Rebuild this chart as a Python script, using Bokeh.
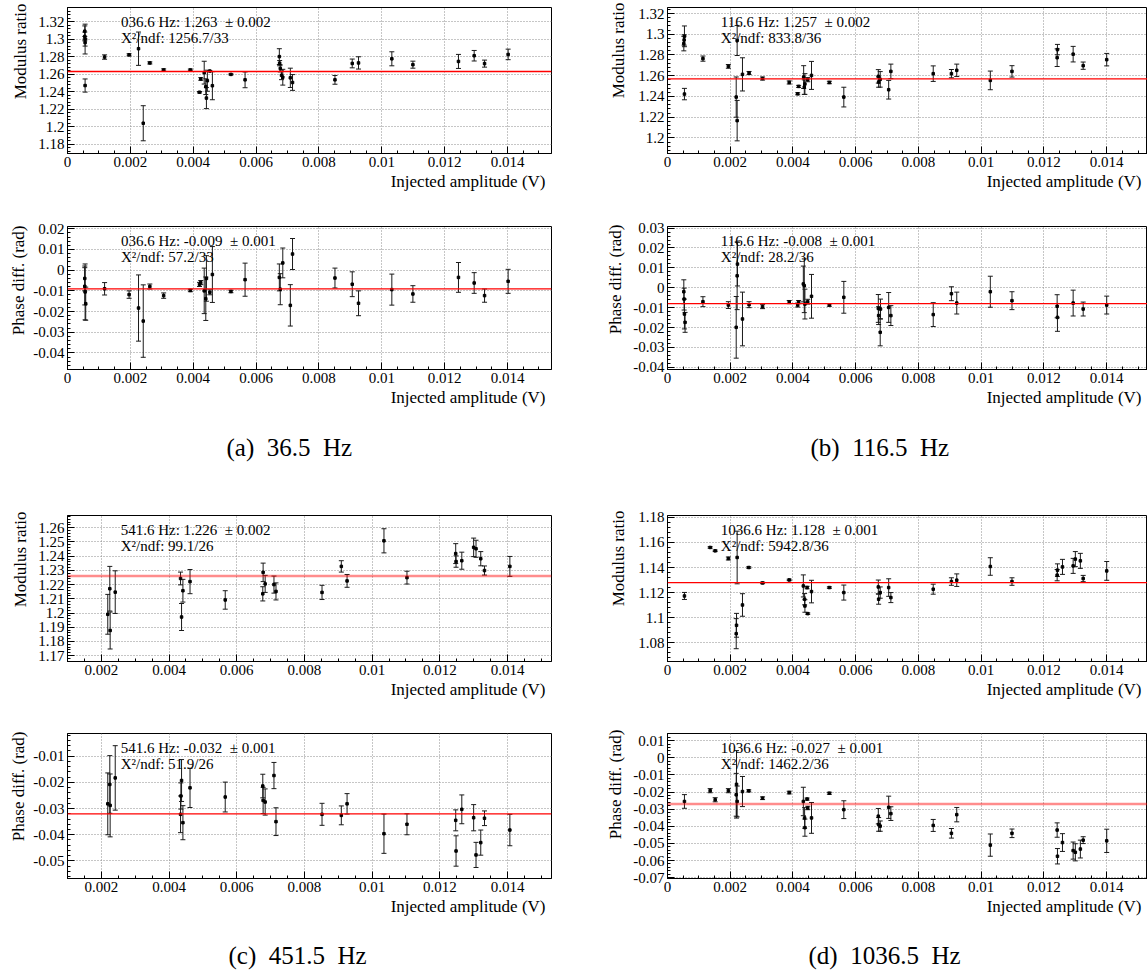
import numpy as np
from bokeh.plotting import figure
from bokeh.models import (Range1d, SingleIntervalTicker, CustomJSTickFormatter, Whisker,
                          TeeHead, ColumnDataSource, Span, Label, Title)
from bokeh.layouts import column, row
from bokeh.embed import file_html
from bokeh.resources import INLINE

FONT = "Liberation Serif"
XLABEL = "Injected amplitude (V)"

# ---------------- (a) 36.5 Hz ----------------
a_mod_x = [0.00055, 0.00055, 0.00056, 0.00056, 0.00056, 0.00118, 0.00196, 0.00226, 0.00241, 0.00262,
           0.00306, 0.00391, 0.0042, 0.00424, 0.00435, 0.0044, 0.00442, 0.00445, 0.00453, 0.00461,
           0.0052, 0.00565, 0.00674, 0.00675, 0.00677, 0.00681, 0.00685, 0.00709, 0.00716, 0.00851,
           0.00906, 0.00926, 0.01032, 0.01099, 0.01244, 0.01294, 0.01327, 0.01402]
a_mod_y = [1.309, 1.303, 1.300, 1.296, 1.247, 1.2795, 1.282, 1.289, 1.204, 1.2728,
           1.2648, 1.2648, 1.2394, 1.2545, 1.2617, 1.2457, 1.2327, 1.2525, 1.2635, 1.2468,
           1.2597, 1.2535, 1.280, 1.2725, 1.2665, 1.2587, 1.2565, 1.2558, 1.2505, 1.2535,
           1.2722, 1.2728, 1.2775, 1.2708, 1.2745, 1.281, 1.272, 1.2825]
a_mod_e = [0.006, 0.005, 0.017, 0.004, 0.0075, 0.0025, 0.0012, 0.019, 0.02, 0.0012,
           0.0012, 0.001, 0.0008, 0.0015, 0.013, 0.009, 0.012, 0.012, 0.0005, 0.016,
           0.0006, 0.009, 0.009, 0.003, 0.004, 0.005, 0.009, 0.011, 0.009, 0.005,
           0.005, 0.007, 0.008, 0.004, 0.008, 0.006, 0.004, 0.006]
a_ph_x = [0.00055, 0.00055, 0.00056, 0.00058, 0.00118, 0.00196, 0.00226, 0.00241, 0.00262, 0.00306,
          0.00391, 0.0042, 0.00424, 0.00435, 0.0044, 0.00442, 0.00453, 0.00461, 0.0052, 0.00565,
          0.00674, 0.00677, 0.00685, 0.00709, 0.00716, 0.00851, 0.00906, 0.00926, 0.01032, 0.01099,
          0.01244, 0.01294, 0.01327, 0.01402]
a_ph_y = [-0.004, -0.0078, -0.0105, -0.0162, -0.009, -0.0118, -0.0183, -0.0246, -0.0079, -0.0123,
          -0.0098, -0.0069, -0.006, -0.010, -0.0138, -0.004, -0.0107, -0.0021, -0.0103, -0.0046,
          -0.0035, -0.0092, 0.0035, -0.017, 0.0078, -0.0038, -0.0068, -0.016, -0.0094, -0.0115,
          -0.0035, -0.0062, -0.0123, -0.0054]
a_ph_e = [0.006, 0.009, 0.0135, 0.008, 0.003, 0.0018, 0.016, 0.0175, 0.0012, 0.0013,
          0.0006, 0.001, 0.001, 0.011, 0.0105, 0.011, 0.0012, 0.0135, 0.0006, 0.008,
          0.0065, 0.0075, 0.0072, 0.010, 0.0075, 0.0048, 0.006, 0.006, 0.0075, 0.004,
          0.0072, 0.005, 0.0032, 0.0058]

# ---------------- (b) 116.5 Hz ----------------
b_mod_x = [0.00052, 0.00053, 0.00054, 0.00054, 0.00113, 0.00194, 0.00219, 0.00222, 0.00222, 0.00239,
           0.0026, 0.00303, 0.00388, 0.00415, 0.00418, 0.00434, 0.00436, 0.00438, 0.00447, 0.00459,
           0.00516, 0.00562, 0.00672, 0.00673, 0.00678, 0.00705, 0.00712, 0.00847, 0.00905, 0.00922,
           0.01029, 0.01098, 0.01242, 0.01243, 0.01293, 0.01325, 0.014]
b_mod_y = [1.291, 1.2945, 1.298, 1.2423, 1.2765, 1.269, 1.2394, 1.2167, 1.294, 1.2613,
           1.2626, 1.2573, 1.2535, 1.2426, 1.2497, 1.2587, 1.249, 1.252, 1.2562, 1.2603,
           1.2535, 1.2394, 1.2594, 1.2539, 1.2565, 1.2465, 1.2642, 1.262, 1.262, 1.2652,
           1.2555, 1.2642, 1.2774, 1.2852, 1.2808, 1.2697, 1.2755]
b_mod_e = [0.007, 0.005, 0.01, 0.0055, 0.0025, 0.0018, 0.0194, 0.0195, 0.0145, 0.016,
           0.0015, 0.0015, 0.0015, 0.001, 0.001, 0.011, 0.007, 0.01, 0.002, 0.0135,
           0.0012, 0.0095, 0.0065, 0.005, 0.0075, 0.009, 0.007, 0.0075, 0.004, 0.006,
           0.009, 0.0055, 0.0085, 0.005, 0.0075, 0.0035, 0.006]
b_ph_x = [0.00052, 0.00053, 0.00054, 0.00056, 0.00113, 0.00194, 0.00219, 0.00222, 0.00223, 0.00239,
          0.0026, 0.00303, 0.00388, 0.00415, 0.00418, 0.00433, 0.00436, 0.00438, 0.00447, 0.00459,
          0.00516, 0.00562, 0.00672, 0.00673, 0.00678, 0.00679, 0.00705, 0.00712, 0.00847, 0.00905,
          0.00922, 0.01029, 0.01098, 0.01242, 0.01243, 0.01293, 0.01325, 0.014]
b_ph_y = [-0.002, -0.0057, -0.0132, -0.0174, -0.007, -0.0087, -0.0199, 0.006, 0.0119, -0.0157,
          -0.0085, -0.0095, -0.0072, -0.0087, -0.0072, 0.0019, 0.001, -0.0082, -0.007, -0.0043,
          -0.0087, -0.0048, -0.0104, -0.014, -0.0224, -0.0107, -0.0099, -0.014, -0.0135, -0.003,
          -0.0077, -0.002, -0.0065, -0.0093, -0.0149, -0.0077, -0.0107, -0.0087]
b_ph_e = [0.006, 0.0055, 0.0075, 0.005, 0.0025, 0.0017, 0.0155, 0.017, 0.011, 0.0135,
          0.0015, 0.001, 0.0008, 0.001, 0.0008, 0.009, 0.0135, 0.0075, 0.0012, 0.011,
          0.0006, 0.008, 0.007, 0.0045, 0.0068, 0.005, 0.0075, 0.005, 0.006, 0.0035,
          0.0055, 0.0078, 0.0045, 0.0058, 0.007, 0.0065, 0.0035, 0.0045]

# ---------------- (c) 451.5 Hz ----------------
c_mod_x = [0.00219, 0.00225, 0.00226, 0.00241, 0.00434, 0.00437, 0.00441, 0.00462, 0.00566, 0.00677,
           0.00678, 0.00684, 0.0071, 0.00716, 0.00852, 0.00909, 0.00926, 0.01035, 0.01103, 0.01247,
           0.01248, 0.01265, 0.013, 0.01307, 0.01321, 0.01332, 0.01407]
c_mod_y = [1.1991, 1.2171, 1.1877, 1.2147, 1.2243, 1.1972, 1.2157, 1.2221, 1.2092, 1.2135,
           1.2286, 1.2205, 1.2200, 1.2152, 1.2145, 1.2328, 1.2226, 1.2508, 1.2249, 1.2418,
           1.2362, 1.2368, 1.2462, 1.2452, 1.2382, 1.2299, 1.2328]
c_mod_e = [0.014, 0.0157, 0.013, 0.015, 0.0045, 0.0095, 0.008, 0.0085, 0.0065, 0.005,
           0.0065, 0.006, 0.006, 0.006, 0.005, 0.004, 0.0045, 0.0085, 0.0045, 0.007,
           0.004, 0.006, 0.0065, 0.006, 0.005, 0.0032, 0.007]
c_ph_x = [0.00219, 0.00225, 0.00226, 0.00241, 0.00434, 0.00435, 0.00437, 0.00441, 0.00462, 0.00566,
          0.00677, 0.00678, 0.00684, 0.0071, 0.00716, 0.00852, 0.00909, 0.00926, 0.01035, 0.01103,
          0.01247, 0.01248, 0.01265, 0.013, 0.01307, 0.01321, 0.01332, 0.01407]
c_ph_y = [-0.0282, -0.0208, -0.0288, -0.0183, -0.0322, -0.0252, -0.0193, -0.0354, -0.0221, -0.0256,
          -0.0214, -0.0269, -0.0275, -0.0174, -0.035, -0.0322, -0.0326, -0.0282, -0.0396, -0.036,
          -0.0345, -0.0462, -0.0303, -0.0335, -0.0477, -0.043, -0.0337, -0.0382]
c_ph_e = [0.0118, 0.011, 0.012, 0.0123, 0.007, 0.005, 0.008, 0.0065, 0.0075, 0.0057,
          0.0045, 0.005, 0.005, 0.005, 0.0053, 0.0042, 0.0036, 0.0039, 0.0075, 0.004,
          0.004, 0.0058, 0.0055, 0.005, 0.0048, 0.0048, 0.0028, 0.006]

# ---------------- (d) 1036.5 Hz ----------------
d_mod_x = [0.00054, 0.00136, 0.00152, 0.00194, 0.00219, 0.0022, 0.00222, 0.00239, 0.00259, 0.00303,
           0.00388, 0.00433, 0.00437, 0.00438, 0.00445, 0.00447, 0.00459, 0.00516, 0.00562, 0.00672,
           0.00673, 0.00678, 0.00705, 0.00712, 0.00847, 0.00905, 0.00922, 0.01029, 0.01098, 0.01242,
           0.01243, 0.01259, 0.01293, 0.013, 0.01316, 0.01325, 0.014]
d_mod_y = [1.1173, 1.156, 1.1533, 1.1472, 1.0872, 1.0939, 1.148, 1.1101, 1.14, 1.1277,
           1.1301, 1.1253, 1.1147, 1.1093, 1.124, 1.1032, 1.1208, 1.124, 1.12, 1.1245,
           1.1147, 1.12, 1.124, 1.116, 1.1227, 1.1288, 1.1299, 1.1408, 1.1288, 1.1339,
           1.1379, 1.1405, 1.1413, 1.1467, 1.1453, 1.1312, 1.1373]
d_mod_e = [0.0028, 0.0006, 0.0006, 0.0012, 0.012, 0.0095, 0.021, 0.009, 0.0006, 0.0006,
           0.0006, 0.0088, 0.0045, 0.005, 0.001, 0.0006, 0.009, 0.0006, 0.006, 0.0055,
           0.004, 0.0045, 0.007, 0.004, 0.004, 0.003, 0.005, 0.007, 0.003, 0.0045,
           0.005, 0.006, 0.006, 0.006, 0.006, 0.0025, 0.0075]
d_ph_x = [0.00054, 0.00136, 0.00152, 0.00194, 0.00219, 0.0022, 0.00222, 0.00239, 0.00259, 0.00303,
          0.00388, 0.00433, 0.00437, 0.00438, 0.00445, 0.00447, 0.00459, 0.00516, 0.00562, 0.00672,
          0.00673, 0.00678, 0.00705, 0.00712, 0.00847, 0.00905, 0.00922, 0.01029, 0.01098, 0.01242,
          0.01243, 0.01259, 0.01293, 0.013, 0.01316, 0.01325, 0.014]
d_ph_y = [-0.0255, -0.0192, -0.0245, -0.0192, -0.0216, -0.0155, -0.0255, -0.0197, -0.0193, -0.0236,
          -0.0203, -0.0255, -0.0351, -0.0408, -0.0241, -0.0293, -0.0351, -0.0207, -0.0303, -0.0341,
          -0.0389, -0.0399, -0.0289, -0.0326, -0.0395, -0.0441, -0.0332, -0.051, -0.0441, -0.0422,
          -0.0575, -0.0495, -0.0542, -0.0552, -0.0533, -0.0481, -0.0485]
d_ph_e = [0.004, 0.0012, 0.0012, 0.0012, 0.0125, 0.0197, 0.009, 0.0088, 0.0006, 0.0008,
          0.0008, 0.0083, 0.006, 0.005, 0.0006, 0.001, 0.009, 0.0006, 0.0052, 0.0045,
          0.004, 0.003, 0.0065, 0.004, 0.0035, 0.0028, 0.0042, 0.0065, 0.0025, 0.0042,
          0.0045, 0.0052, 0.005, 0.005, 0.0052, 0.002, 0.0068]

# fit results and statistics boxes
fits = {"a": (1.263, -0.009), "b": (1.257, -0.008), "c": (1.226, -0.032), "d": (1.128, -0.027)}
stat_mod = {"a": ("036.6 Hz: 1.263 \u00a0\u00b1 0.002", "X\u00b2/ndf: 1256.7/33"),
            "b": ("116.6 Hz: 1.257 \u00a0\u00b1 0.002", "X\u00b2/ndf: 833.8/36"),
            "c": ("541.6 Hz: 1.226 \u00a0\u00b1 0.002", "X\u00b2/ndf: 99.1/26"),
            "d": ("1036.6 Hz: 1.128 \u00a0\u00b1 0.001", "X\u00b2/ndf: 5942.8/36")}
stat_ph = {"a": ("036.6 Hz: -0.009 \u00a0\u00b1 0.001", "X\u00b2/ndf: 57.2/33"),
           "b": ("116.6 Hz: -0.008 \u00a0\u00b1 0.001", "X\u00b2/ndf: 28.2/36"),
           "c": ("541.6 Hz: -0.032 \u00a0\u00b1 0.001", "X\u00b2/ndf: 51.9/26"),
           "d": ("1036.6 Hz: -0.027 \u00a0\u00b1 0.001", "X\u00b2/ndf: 1462.2/36")}
captions = {"a": "(a)\u00a0 36.5\u00a0 Hz", "b": "(b)\u00a0 116.5\u00a0 Hz",
            "c": "(c)\u00a0 451.5\u00a0 Hz", "d": "(d)\u00a0 1036.5\u00a0 Hz"}

FMT_CODE = "var v = Math.round(tick*1e6)/1e6; if (v === 0) { v = 0; } return v.toString();"


def panel(x, y, e, fit, txt, xr, yr, ystep, ylabel, tx, w, h, bl, br, bt, bb, ystand, ydown,
          soft_fit=False):
    p = figure(width=w, height=h, x_range=Range1d(*xr), y_range=Range1d(*yr),
               output_backend="svg", toolbar_location=None, title=None,
               min_border_left=bl, min_border_right=br, min_border_top=bt, min_border_bottom=bb,
               background_fill_color="white", border_fill_color="white")
    p.outline_line_color = "black"
    p.outline_line_width = 1
    p.outline_line_alpha = 1.0
    for ax, step, nminor in ((p.xaxis[0], 0.002, 4), (p.yaxis[0], ystep, 5)):
        ax.ticker = SingleIntervalTicker(interval=step, num_minor_ticks=nminor)
        ax.formatter = CustomJSTickFormatter(code=FMT_CODE)
        ax.major_tick_in = 7
        ax.major_tick_out = 0
        ax.minor_tick_in = 3
        ax.minor_tick_out = 0
        ax.major_tick_line_color = "black"
        ax.minor_tick_line_color = "black"
        ax.axis_line_color = "black"
        ax.major_label_text_font = FONT
        ax.major_label_text_font_size = "15px"
        ax.major_label_text_color = "black"
        ax.major_label_standoff = 3
    for g in (p.xgrid[0], p.ygrid[0]):
        g.grid_line_color = "#8c8c8c"
        g.grid_line_dash = "1 2"
        g.grid_line_width = 1

    xa = np.array(x)
    ya = np.array(y)
    ea = np.array(e)
    src = ColumnDataSource(dict(x=xa, y=ya, lo=ya - ea, hi=ya + ea))
    p.add_layout(Whisker(source=src, base="x", lower="lo", upper="hi", dimension="height",
                         line_color="#1a1a1a", line_width=1,
                         upper_head=TeeHead(size=5, line_color="#1a1a1a", line_width=1),
                         lower_head=TeeHead(size=5, line_color="#1a1a1a", line_width=1)))
    p.scatter("x", "y", source=src, marker="square", size=2.5, color="black")
    if soft_fit:
        p.add_layout(Span(location=fit, dimension="width", line_color="#ff0000",
                          line_alpha=0.45, line_width=2.4))
    else:
        p.add_layout(Span(location=fit, dimension="width", line_color="#ff0000", line_width=1.3))

    yspan = yr[1] - yr[0]
    for frac, t in ((0.10, txt[0]), (0.21, txt[1])):
        p.add_layout(Label(x=tx, y=yr[1] - frac * yspan, text=t, text_font=FONT,
                           text_font_size="15px", text_color="black",
                           text_align="left", text_baseline="middle"))
    # ROOT-style y title: vertical, aligned with the top end of the axis
    p.add_layout(Title(text=ylabel, align="right", text_font=FONT, text_font_size="17px",
                       text_font_style="normal", text_color="black", standoff=ystand,
                       offset=-ydown), "left")
    p.add_layout(Title(text=XLABEL, align="right", text_font=FONT, text_font_size="17px",
                       text_font_style="normal", text_color="black", standoff=0, offset=6), "below")
    return p


def caption(key, w, h, left, ymid):
    c = figure(width=w, height=h, x_range=Range1d(0, w), y_range=Range1d(0, h),
               output_backend="svg", toolbar_location=None, title=None,
               x_axis_type=None, y_axis_type=None, min_border=0,
               background_fill_color="white", border_fill_color="white")
    c.outline_line_color = None
    c.grid.visible = False
    c.add_layout(Label(x=left, y=h - ymid, text=captions[key], text_font=FONT,
                       text_font_size="25px", text_color="black",
                       text_align="left", text_baseline="middle"))
    return c


LW, RW = 580, 567
XR_L = (0.0, 0.0154)
XR_R = (0.0, 0.0153)
XR_C = (0.001, 0.0153)

pa1 = panel(a_mod_x, a_mod_y, a_mod_e, fits["a"][0], stat_mod["a"], XR_L, (1.1695, 1.336), 0.02,
            "Modulus ratio", 0.0017, LW, 215, 67, 29, 6, 61, 12, 4)
pb1 = panel(b_mod_x, b_mod_y, b_mod_e, fits["b"][0], stat_mod["b"], XR_R, (1.185, 1.3258), 0.02,
            "Modulus ratio", 0.0017, RW, 215, 87, 0, 7, 62, 16, 5)
pa2 = panel(a_ph_x, a_ph_y, a_ph_e, fits["a"][1], stat_ph["a"], XR_L, (-0.048, 0.0211), 0.01,
            "Phase diff. (rad)", 0.0017, LW, 200, 67, 29, 10, 45, 6, 1)
pb2 = panel(b_ph_x, b_ph_y, b_ph_e, fits["b"][1], stat_ph["b"], XR_R, (-0.0411, 0.0308), 0.01,
            "Phase diff. (rad)", 0.0017, RW, 200, 87, 0, 11, 46, 11, 2)
pc1 = panel(c_mod_x, c_mod_y, c_mod_e, fits["c"][0], stat_mod["c"], XR_C, (1.1659, 1.2686), 0.01,
            "Modulus ratio", 0.00257, LW, 230, 67, 29, 34, 48, 12, 4, soft_fit=True)
pd1 = panel(d_mod_x, d_mod_y, d_mod_e, fits["d"][0], stat_mod["d"], XR_R, (1.065, 1.1815), 0.02,
            "Modulus ratio", 0.0017, RW, 230, 87, 0, 35, 49, 16, 5)
pc2 = panel(c_ph_x, c_ph_y, c_ph_e, fits["c"][1], stat_ph["c"], XR_C, (-0.0567, -0.00135), 0.01,
            "Phase diff. (rad)", 0.00257, LW, 215, 67, 29, 23, 47, 6, 2)
pd2 = panel(d_ph_x, d_ph_y, d_ph_e, fits["d"][1], stat_ph["d"], XR_R, (-0.0705, 0.0142), 0.01,
            "Phase diff. (rad)", 0.0017, RW, 215, 87, 0, 23, 45, 11, 4, soft_fit=True)

cap1 = row(caption("a", LW, 65, 226, 32), caption("b", RW, 65, 230, 32))
cap2 = row(caption("c", LW, 46, 228, 30), caption("d", RW, 46, 228, 30))

layout = column(row(pa1, pb1), row(pa2, pb2), cap1, row(pc1, pd1), row(pc2, pd2), cap2)

with open("out.html", "w") as f:
    f.write(file_html(layout, INLINE))
